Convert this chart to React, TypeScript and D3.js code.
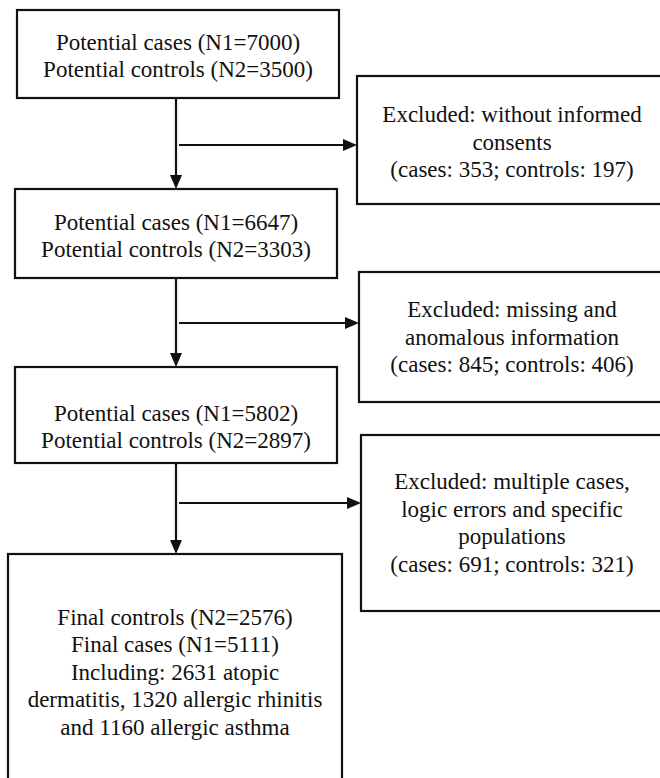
import { useEffect, useRef } from 'react';
import * as d3 from 'd3';

// stages of the selection flow
const stageCases = [7000, 6647, 5802];
const stageControls = [3500, 3303, 2897];

const excludedReasons = [
  ['Excluded: without informed', 'consents'],
  ['Excluded: missing and', 'anomalous information'],
  ['Excluded: multiple cases,', 'logic errors and specific', 'populations'],
];
const excludedCases = [353, 845, 691];
const excludedControls = [197, 406, 321];

const finalControls = 2576;
const finalCases = 5111;
const finalDetail = ['Including: 2631 atopic', 'dermatitis, 1320 allergic rhinitis', 'and 1160 allergic asthma'];

// layout (pixels)
const WIDTH = 660;
const HEIGHT = 778;
const STEM_X = 176;
const LINE_H = 27.5;
const FONT = "'Liberation Serif', 'Times New Roman', Times, serif";
const INK = '#111';

const mainBoxes = [
  { x0: 17, x1: 339, y0: 10, y1: 98, cy: 56 },
  { x0: 15, x1: 337, y0: 189, y1: 278, cy: 236 },
  { x0: 15, x1: 337, y0: 367, y1: 463, cy: 427 },
  { x0: 8, x1: 342, y0: 554, y1: 790, cy: 672 },
];
const sideBoxes = [
  { x0: 357, y0: 76, y1: 204, cy: 142 },
  { x0: 359, y0: 272, y1: 402, cy: 337 },
  { x0: 361, y0: 435, y1: 611, cy: 523 },
];
const SIDE_X1 = 667;
const SIDE_CX = 512;
const branchY = [145, 323, 503];

export default function App() {
  const svgRef = useRef<SVGSVGElement>(null);

  useEffect(() => {
    const svg = d3.select(svgRef.current);
    if (!svg.node()) return;
    svg.selectAll('*').remove();

    svg.append('rect').attr('width', WIDTH).attr('height', HEIGHT).attr('fill', '#fff');

    const mainText: string[][] = stageCases.map((c, i) => [
      `Potential cases (N1=${c})`,
      `Potential controls (N2=${stageControls[i]})`,
    ]);
    mainText.push([`Final controls (N2=${finalControls})`, `Final cases (N1=${finalCases})`, ...finalDetail]);

    const sideText = excludedReasons.map((r, i) => [
      ...r,
      `(cases: ${excludedCases[i]}; controls: ${excludedControls[i]})`,
    ]);

    const drawLines = (lines: string[], cx: number, cy: number) => {
      lines.forEach((t, i) => {
        svg.append('text')
          .attr('x', cx)
          .attr('y', cy + (i - (lines.length - 1) / 2) * LINE_H)
          .attr('text-anchor', 'middle')
          .attr('dominant-baseline', 'central')
          .style('font-family', FONT)
          .style('font-size', '23px')
          .attr('fill', INK)
          .text(t);
      });
    };

    mainBoxes.forEach((b, i) => {
      svg.append('rect')
        .attr('x', b.x0).attr('y', b.y0)
        .attr('width', b.x1 - b.x0).attr('height', b.y1 - b.y0)
        .attr('fill', 'none').attr('stroke', INK).attr('stroke-width', 2.2);
      drawLines(mainText[i], (b.x0 + b.x1) / 2, b.cy);
    });

    sideBoxes.forEach((b, i) => {
      svg.append('rect')
        .attr('x', b.x0).attr('y', b.y0)
        .attr('width', SIDE_X1 - b.x0).attr('height', b.y1 - b.y0)
        .attr('fill', 'none').attr('stroke', INK).attr('stroke-width', 2.2);
      drawLines(sideText[i], SIDE_CX, b.cy);
    });

    const line = d3.line<[number, number]>();
    const head = (tipX: number, tipY: number, dir: 'down' | 'right') => {
      const L = 14, W = 6;
      const pts: [number, number][] = dir === 'down'
        ? [[tipX, tipY], [tipX - W, tipY - L], [tipX + W, tipY - L]]
        : [[tipX, tipY], [tipX - L, tipY - W], [tipX - L, tipY + W]];
      svg.append('path').attr('d', line(pts) + 'Z').attr('fill', INK);
    };

    // vertical stems between main boxes, each with a branch to its exclusion box
    for (let i = 0; i < 3; i++) {
      const from = mainBoxes[i].y1;
      const to = mainBoxes[i + 1].y0;
      svg.append('path')
        .attr('d', line([[STEM_X, from], [STEM_X, to - 12]]))
        .attr('stroke', INK).attr('stroke-width', 2.2).attr('fill', 'none');
      head(STEM_X, to, 'down');

      const tip = sideBoxes[i].x0;
      svg.append('path')
        .attr('d', line([[STEM_X + 3, branchY[i]], [tip - 12, branchY[i]]]))
        .attr('stroke', INK).attr('stroke-width', 2.2).attr('fill', 'none');
      head(tip, branchY[i], 'right');
    }
  }, []);

  return (
    <svg
      ref={svgRef}
      width={WIDTH}
      height={HEIGHT}
      style={{ position: 'absolute', left: 0, top: 0, display: 'block' }}
    />
  );
}
